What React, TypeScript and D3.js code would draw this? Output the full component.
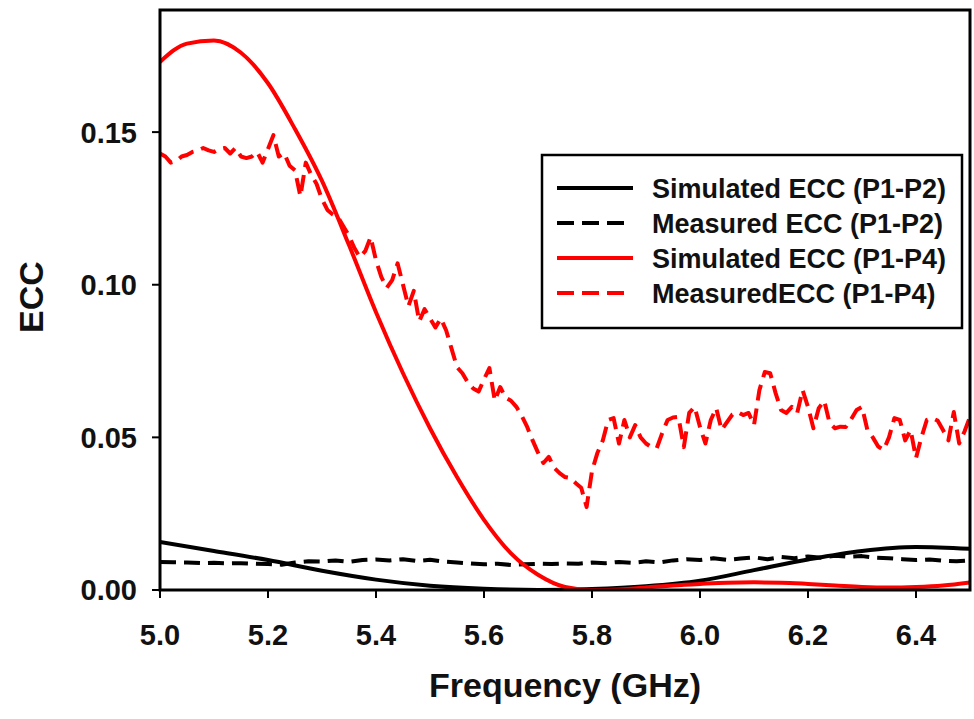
import React from "react";
import * as d3 from "d3";

// ---- Data ----
const xTicks = [5.0, 5.2, 5.4, 5.6, 5.8, 6.0, 6.2, 6.4];
const yTicks = [0.0, 0.05, 0.1, 0.15];

const simP12Freq = [5.0, 5.1, 5.2, 5.3, 5.4, 5.5, 5.6, 5.7, 5.8, 5.9, 6.0, 6.1, 6.2, 6.3, 6.4, 6.5];
const simP12 = [0.0157, 0.0128, 0.0098, 0.0063, 0.0034, 0.0014, 0.0004, 0.0, 0.0003, 0.0012, 0.003, 0.0065, 0.01, 0.0128, 0.0141, 0.0135];

const measP12Freq = [
  5.0, 5.025, 5.05, 5.075, 5.1, 5.125, 5.15, 5.175, 5.2, 5.225, 5.25, 5.275, 5.3, 5.325, 5.35, 5.375,
  5.4, 5.425, 5.45, 5.475, 5.5, 5.525, 5.55, 5.575, 5.6, 5.625, 5.65, 5.675, 5.7, 5.725, 5.75, 5.775,
  5.8, 5.825, 5.85, 5.875, 5.9, 5.925, 5.95, 5.975, 6.0, 6.025, 6.05, 6.075, 6.1, 6.125, 6.15, 6.175,
  6.2, 6.225, 6.25, 6.275, 6.3, 6.325, 6.35, 6.375, 6.4, 6.425, 6.45, 6.475, 6.5,
];
const measP12 = [
  0.0092, 0.0091, 0.009, 0.0088, 0.0089, 0.0087, 0.0088, 0.0086, 0.0085, 0.0083, 0.009, 0.0094, 0.0093, 0.0097, 0.0092, 0.0098,
  0.01, 0.0097, 0.0101, 0.0095, 0.0099, 0.0093, 0.009, 0.0087, 0.0084, 0.0086, 0.0082, 0.0084, 0.0086, 0.0085, 0.0087, 0.0086,
  0.009, 0.0088, 0.0092, 0.0089, 0.0094, 0.009, 0.0097, 0.0101, 0.0098, 0.0104, 0.0099, 0.0103, 0.0107, 0.0101, 0.0108, 0.0104,
  0.011, 0.0106, 0.0112, 0.0109, 0.0111, 0.0106, 0.0104, 0.0101, 0.0098, 0.01, 0.0096, 0.0094, 0.0097,
];

const simP14Freq = [
  5.0, 5.05, 5.1, 5.15, 5.2, 5.25, 5.3, 5.35, 5.4, 5.45, 5.5, 5.55, 5.6, 5.65, 5.7, 5.75,
  5.8, 5.85, 5.9, 5.95, 6.0, 6.05, 6.1, 6.15, 6.2, 6.25, 6.3, 6.35, 6.4, 6.45, 6.5,
];
const simP14 = [
  0.173, 0.179, 0.18, 0.176, 0.166, 0.151, 0.134, 0.113, 0.091, 0.071, 0.053, 0.037, 0.023, 0.012, 0.005, 0.001,
  0.0, 0.0002, 0.0008, 0.0015, 0.002, 0.0024, 0.0025, 0.0024, 0.002, 0.0015, 0.001, 0.0008, 0.001, 0.0015, 0.0025,
];

const measP14Start = 5.0;
const measP14Step = 0.01;
const measP14 = [
  0.143, 0.142, 0.14, 0.1405, 0.142, 0.1425, 0.1435, 0.144, 0.1448, 0.144,
  0.1435, 0.1445, 0.1448, 0.143, 0.1448, 0.142, 0.1415, 0.142, 0.1435, 0.14,
  0.1445, 0.149, 0.142, 0.1431, 0.139, 0.1375, 0.129, 0.14, 0.136, 0.133,
  0.128, 0.1245, 0.123, 0.122, 0.119, 0.116, 0.112, 0.109, 0.111, 0.1156,
  0.108, 0.1025, 0.099, 0.1015, 0.107, 0.1, 0.093, 0.098, 0.088, 0.092,
  0.089, 0.086, 0.089, 0.085, 0.079, 0.073, 0.071, 0.068, 0.066, 0.065,
  0.069, 0.0727, 0.062, 0.0665, 0.063, 0.062, 0.06, 0.057, 0.0534, 0.049,
  0.045, 0.0416, 0.0436, 0.04, 0.0383, 0.037, 0.0367, 0.035, 0.0335, 0.0272,
  0.039, 0.0449, 0.049, 0.0557, 0.0563, 0.048, 0.0557, 0.05, 0.054, 0.05,
  0.048, 0.0468, 0.0465, 0.0514, 0.0557, 0.0565, 0.0567, 0.0468, 0.058, 0.06,
  0.0534, 0.048, 0.0557, 0.0596, 0.0524, 0.055, 0.0575, 0.0583, 0.0573, 0.058,
  0.054, 0.0655, 0.0714, 0.071, 0.0645, 0.059, 0.058, 0.06, 0.058, 0.0655,
  0.06, 0.053, 0.0596, 0.062, 0.0547, 0.053, 0.0535, 0.0534, 0.056, 0.059,
  0.06, 0.0524, 0.05, 0.047, 0.0459, 0.05, 0.0563, 0.0557, 0.049, 0.0524,
  0.0432, 0.05, 0.0557, 0.0563, 0.0555, 0.0524, 0.049, 0.0583, 0.048, 0.052,
  0.0567,
];

const legendLabels = [
  "Simulated ECC (P1-P2)",
  "Measured ECC (P1-P2)",
  "Simulated ECC (P1-P4)",
  "MeasuredECC (P1-P4)",
];
const legendColors = ["#000000", "#000000", "#ff0000", "#ff0000"];
const legendDashed = [false, true, false, true];

// ---- Layout ----
const W = 974;
const H = 719;
const M = { left: 160, right: 970, top: 10, bottom: 590 };
const FONT = "'Liberation Sans', Arial, Helvetica, sans-serif";

export default function App() {
  const x = d3.scaleLinear().domain([5.0, 6.5]).range([M.left, M.right]);
  const y = d3.scaleLinear().domain([0, 0.19]).range([M.bottom, M.top]);

  const line = d3
    .line<[number, number]>()
    .x((d) => x(d[0]))
    .y((d) => y(d[1]));
  const smooth = d3
    .line<[number, number]>()
    .x((d) => x(d[0]))
    .y((d) => y(d[1]))
    .curve(d3.curveMonotoneX);

  const sim12 = simP12Freq.map((f, i) => [f, simP12[i]] as [number, number]);
  const meas12 = measP12Freq.map((f, i) => [f, measP12[i]] as [number, number]);
  const sim14 = simP14Freq.map((f, i) => [f, simP14[i]] as [number, number]);
  const meas14 = measP14.map((v, i) => [measP14Start + i * measP14Step, v] as [number, number]);

  const dash = "16,8";
  const lw = 4;

  const legendX = 542;
  const legendY = 155;
  const legendW = 420;
  const legendH = 173;
  const rowY = [188, 223, 258, 293];

  return (
    <svg
      width={W}
      height={H}
      style={{ position: "absolute", left: 0, top: 0, background: "#fff" }}
      fontFamily={FONT}
    >
      <rect x={0} y={0} width={W} height={H} fill="#fff" />
      <defs>
        <clipPath id="plotclip">
          <rect x={M.left} y={M.top} width={M.right - M.left} height={M.bottom - M.top} />
        </clipPath>
      </defs>

      {/* series */}
      <g clipPath="url(#plotclip)" fill="none" strokeLinejoin="round">
        <path d={smooth(sim12) || ""} stroke="#000" strokeWidth={lw} />
        <path d={line(meas12) || ""} stroke="#000" strokeWidth={lw} strokeDasharray={dash} />
        <path d={smooth(sim14) || ""} stroke="#ff0000" strokeWidth={lw} />
        <path d={line(meas14) || ""} stroke="#ff0000" strokeWidth={lw} strokeDasharray={dash} />
      </g>

      {/* frame */}
      <rect
        x={M.left}
        y={M.top}
        width={M.right - M.left}
        height={M.bottom - M.top}
        fill="none"
        stroke="#000"
        strokeWidth={3}
      />

      {/* y ticks */}
      {yTicks.map((t) => (
        <g key={"y" + t}>
          <line x1={M.left - 8} x2={M.left} y1={y(t)} y2={y(t)} stroke="#000" strokeWidth={2} />
          <text
            x={137}
            y={y(t)}
            dy="0.36em"
            textAnchor="end"
            fontSize={29}
            fontWeight="bold"
            fill="#111"
          >
            {t.toFixed(2)}
          </text>
        </g>
      ))}

      {/* x ticks */}
      {xTicks.map((t) => (
        <g key={"x" + t}>
          <line x1={x(t)} x2={x(t)} y1={M.bottom} y2={M.bottom + 8} stroke="#000" strokeWidth={2} />
          <text x={x(t)} y={645} textAnchor="middle" fontSize={29} fontWeight="bold" fill="#111">
            {t.toFixed(1)}
          </text>
        </g>
      ))}

      {/* axis titles */}
      <text x={565} y={697} textAnchor="middle" fontSize={34} fontWeight="bold" fill="#111">
        Frequency (GHz)
      </text>
      <text
        transform="translate(43,297) rotate(-90)"
        textAnchor="middle"
        fontSize={34}
        fontWeight="bold"
        fill="#111"
      >
        ECC
      </text>

      {/* legend */}
      <rect
        x={legendX}
        y={legendY}
        width={legendW}
        height={legendH}
        fill="#fff"
        stroke="#000"
        strokeWidth={2.5}
      />
      {legendLabels.map((lab, i) => (
        <g key={lab}>
          <line
            x1={557}
            x2={legendDashed[i] ? 625 : 633}
            y1={rowY[i]}
            y2={rowY[i]}
            stroke={legendColors[i]}
            strokeWidth={lw}
            strokeDasharray={legendDashed[i] ? "17,8" : undefined}
          />
          <text x={652} y={rowY[i]} dy="0.36em" fontSize={27} fontWeight="bold" fill="#111">
            {lab}
          </text>
        </g>
      ))}
    </svg>
  );
}
